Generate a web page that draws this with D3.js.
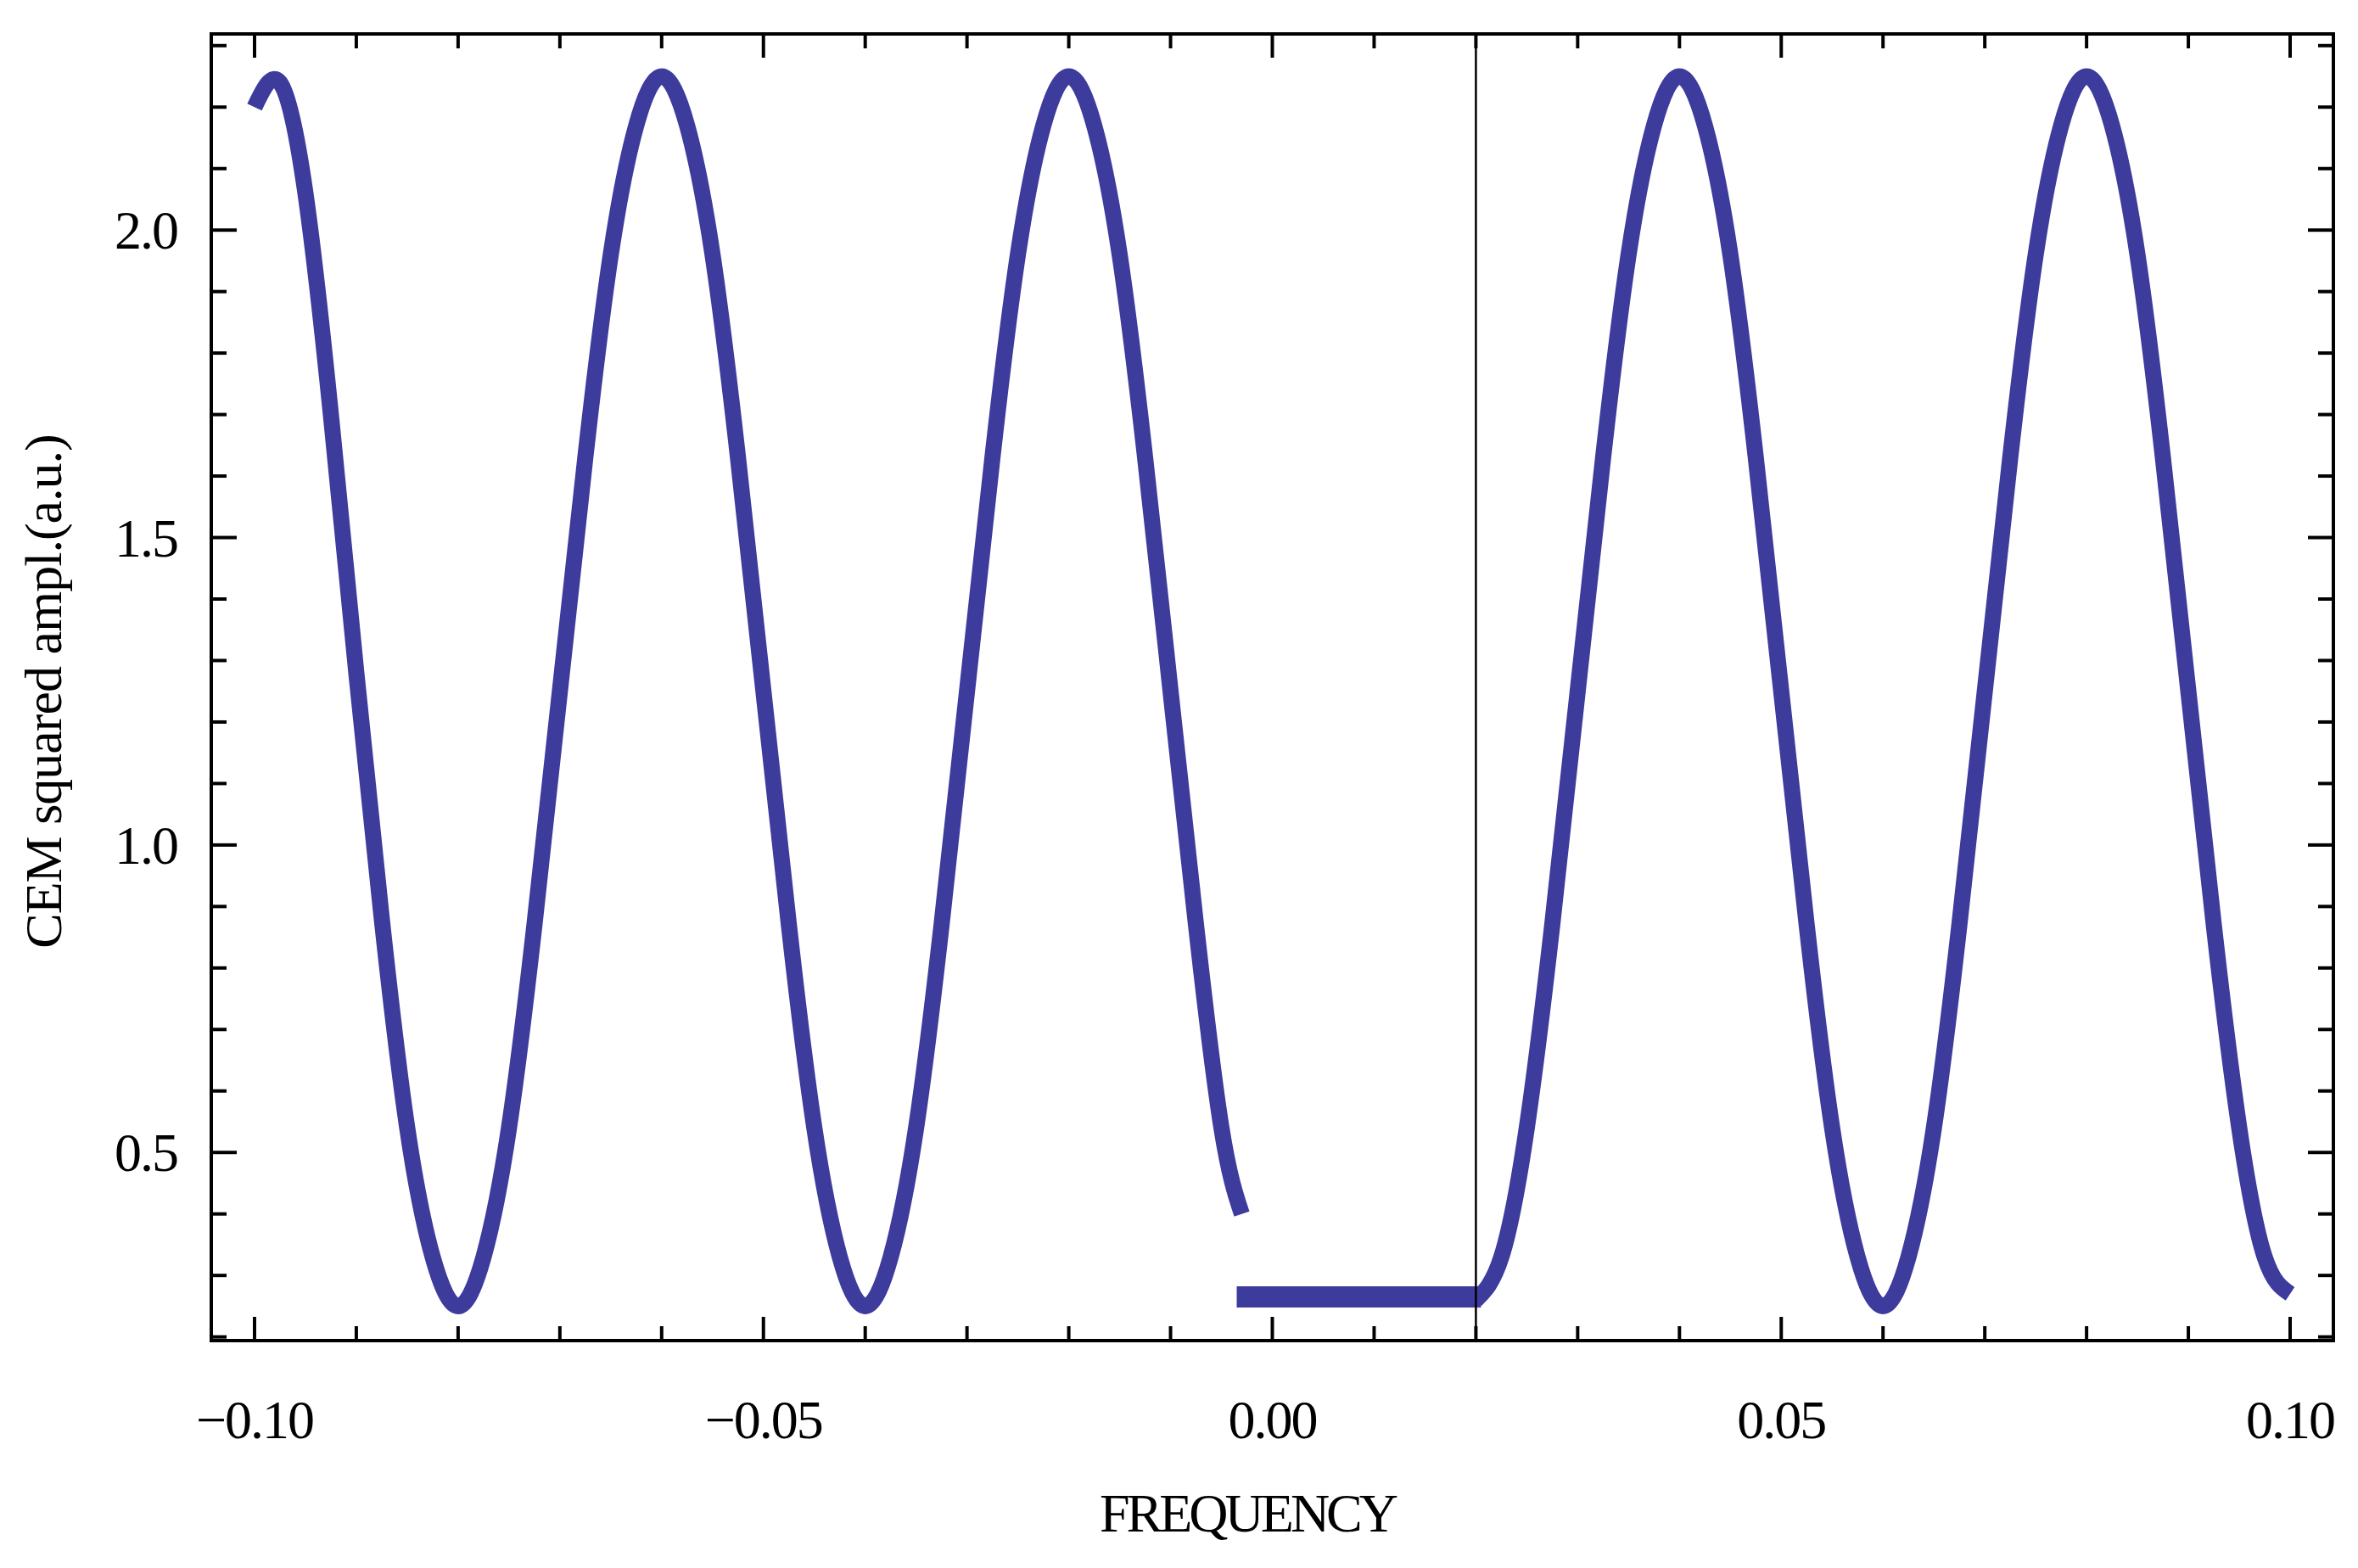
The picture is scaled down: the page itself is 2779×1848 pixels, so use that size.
<!DOCTYPE html>
<html>
<head>
<meta charset="utf-8">
<script src="https://cdn.jsdelivr.net/npm/d3@7"></script>
<style>
  body { margin: 0; background: #fff; }
  text { font-family: "Liberation Serif", "Times New Roman", serif; fill: #000; }
</style>
</head>
<body>
<svg id="chart"></svg>
<script>
// values
const leftX = d3.range(40).map(i => i < 39 ? -0.1 + i * 0.0025 : -0.003);
const leftY = [2.20, 2.24, 2.06, 1.70, 1.28, 0.88, 0.54, 0.33, 0.25, 0.33, 0.54, 0.87, 1.25, 1.63, 1.96, 2.17,
               2.25, 2.17, 1.96, 1.63, 1.25, 0.87, 0.54, 0.33, 0.25, 0.33, 0.54, 0.87, 1.25, 1.63, 1.96, 2.17,
               2.25, 2.17, 1.96, 1.63, 1.25, 0.87, 0.54, 0.40];
const rightX = d3.range(33).map(i => 0.02 + i * 0.0025);
const rightY = [0.26, 0.33, 0.54, 0.87, 1.25, 1.63, 1.96, 2.17, 2.25, 2.17, 1.96, 1.63, 1.25, 0.87, 0.54, 0.33,
                0.25, 0.33, 0.54, 0.87, 1.25, 1.63, 1.96, 2.17, 2.25, 2.17, 1.96, 1.63, 1.25, 0.87, 0.54, 0.33, 0.27];
const flatX = [-0.0035, 0.0205];
const flatY = [0.265, 0.265];
const markerX = 0.02;
const xMajor = [-0.10, -0.05, 0.00, 0.05, 0.10];
const xLabels = ["\u22120.10", "\u22120.05", "0.00", "0.05", "0.10"];
const yMajor = [0.5, 1.0, 1.5, 2.0];
const yLabels = ["0.5", "1.0", "1.5", "2.0"];

const W = 2779, H = 1848;
const margin = {left: 249, right: 29, top: 40, bottom: 268};
const xDomain = [-0.10425, 0.10425], yDomain = [0.194, 2.319];

const svg = d3.select("#chart").attr("width", W).attr("height", H);
const x = d3.scaleLinear().domain(xDomain).range([margin.left, W - margin.right]);
const y = d3.scaleLinear().domain(yDomain).range([H - margin.bottom, margin.top]);
const x0 = x.range()[0], x1 = x.range()[1], y0 = y.range()[0], y1 = y.range()[1];

const xMinor = d3.range(-10, 11).map(i => i / 100).filter(v => !xMajor.some(m => Math.abs(m - v) < 1e-9));
const yMinor = d3.range(2, 24).map(i => i / 10).filter(v => !yMajor.some(m => Math.abs(m - v) < 1e-9));

const color = "#3d3b9c";
const pts = (xs, ys) => xs.map((v, i) => [v, ys[i]]);
const line = d3.line().x(d => x(d[0])).y(d => y(d[1])).curve(d3.curveNatural);

svg.append("path").datum(pts(leftX, leftY)).attr("d", line)
  .attr("fill", "none").attr("stroke", color).attr("stroke-width", 19);
svg.append("path").datum(pts(rightX, rightY)).attr("d", line)
  .attr("fill", "none").attr("stroke", color).attr("stroke-width", 19);
svg.append("path").datum(pts(flatX, flatY)).attr("d", d3.line().x(d => x(d[0])).y(d => y(d[1])))
  .attr("fill", "none").attr("stroke", color).attr("stroke-width", 25);

// vertical marker line
svg.append("line").attr("x1", x(markerX)).attr("x2", x(markerX)).attr("y1", y1).attr("y2", y0)
  .attr("stroke", "#000").attr("stroke-width", 2.5);

// ticks on all four sides
const ticks = svg.append("g").attr("stroke", "#000").attr("stroke-width", 4);
[[xMajor, 28], [xMinor, 17]].forEach(([vals, len]) => {
  vals.forEach(v => {
    ticks.append("line").attr("x1", x(v)).attr("x2", x(v)).attr("y1", y0).attr("y2", y0 - len);
    ticks.append("line").attr("x1", x(v)).attr("x2", x(v)).attr("y1", y1).attr("y2", y1 + len);
  });
});
[[yMajor, 30], [yMinor, 18]].forEach(([vals, len]) => {
  vals.forEach(v => {
    ticks.append("line").attr("y1", y(v)).attr("y2", y(v)).attr("x1", x0).attr("x2", x0 + len);
    ticks.append("line").attr("y1", y(v)).attr("y2", y(v)).attr("x1", x1).attr("x2", x1 - len);
  });
});

// frame
svg.append("rect").attr("x", x0).attr("y", y1).attr("width", x1 - x0).attr("height", y0 - y1)
  .attr("fill", "none").attr("stroke", "#000").attr("stroke-width", 4);

// tick labels
svg.append("g").selectAll("text").data(xMajor).join("text")
  .attr("x", d => x(d)).attr("y", y0 + 115).attr("text-anchor", "middle")
  .attr("font-size", 64).attr("letter-spacing", -2).text((d, i) => xLabels[i]);
svg.append("g").selectAll("text").data(yMajor).join("text")
  .attr("x", x0 - 40).attr("y", d => y(d) + 22).attr("text-anchor", "end")
  .attr("font-size", 64).attr("letter-spacing", -2).text((d, i) => yLabels[i]);

// axis titles
svg.append("text").attr("x", 1470).attr("y", 1805).attr("text-anchor", "middle")
  .attr("font-size", 64).attr("letter-spacing", -4).text("FREQUENCY");
svg.append("text").attr("transform", "translate(72,815) rotate(-90)").attr("text-anchor", "middle")
  .attr("font-size", 62).attr("letter-spacing", -1).text("CEM squared  ampl.(a.u.)");
</script>
</body>
</html>
